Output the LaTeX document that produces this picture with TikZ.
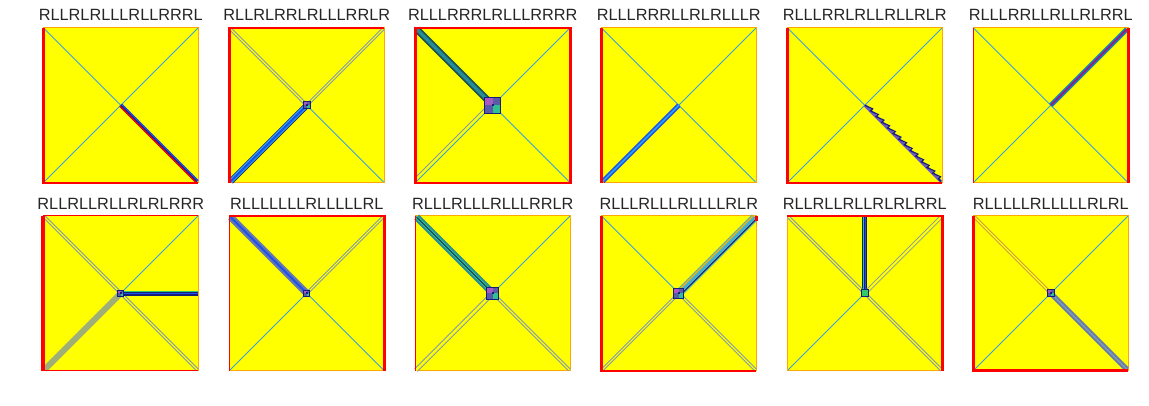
\documentclass[tikz,border=0pt]{standalone}
\usepackage{fontspec}
\setmainfont{Liberation Sans}
\usetikzlibrary{positioning,decorations.pathmorphing}
\definecolor{yel}{RGB}{255,255,0}
\definecolor{orng}{RGB}{255,168,0}
\definecolor{redc}{RGB}{255,0,0}
\definecolor{diagc}{RGB}{56,160,224}
\definecolor{titlec}{RGB}{38,38,38}
\definecolor{navyc}{RGB}{20,30,120}
\definecolor{bluec}{RGB}{30,80,235}
\definecolor{cyanc}{RGB}{40,170,235}
\definecolor{grayc}{RGB}{130,155,172}
\definecolor{tealc}{RGB}{40,140,150}
\definecolor{darkteal}{RGB}{25,80,80}
\definecolor{greenc}{RGB}{50,200,110}
\definecolor{purplec}{RGB}{110,90,190}
\definecolor{olivec}{RGB}{160,175,120}
\definecolor{slatec}{RGB}{100,120,175}
\definecolor{lteal}{RGB}{100,185,170}
\definecolor{blobc}{RGB}{90,90,170}
\definecolor{mauvec}{RGB}{170,90,190}

\begin{document}
\begin{tikzpicture}[x=1pt,y=1pt,
    panel/.style={draw=orng,fill=yel,line width=1.2pt,minimum size=155pt,inner sep=0pt,outer sep=0pt,
      path picture={\draw[diagc,line width=0.9pt]
        (path picture bounding box.north west) -- (path picture bounding box.south east)
        (path picture bounding box.north east) -- (path picture bounding box.south west);}},
    rulename/.style={font=\fontsize{16.3}{19}\selectfont,text=titlec,inner sep=0pt},
    band/.style={draw=#1,line width=5pt,shorten >=2pt},
    fine/.style={draw=#1,line width=1.3pt,shorten >=2pt},
    twin/.style={draw=#1,double=yel,line width=1pt,double distance=1.2pt,shorten >=1pt},
    nudge/.style 2 args={transform canvas={xshift=#1pt,yshift=#2pt}},
    blob/.style={draw=navyc,fill=blobc,line width=0.8pt,minimum size=#1,inner sep=0pt,outer sep=0pt,
      path picture={
        \fill[mauvec] (path picture bounding box.north west) rectangle (path picture bounding box.center);
        \fill[greenc!70!cyanc] (path picture bounding box.center) rectangle (path picture bounding box.south east);
        \fill[navyc] ([shift={(-1pt,-1pt)}]path picture bounding box.center) rectangle ([shift={(1pt,1pt)}]path picture bounding box.center);}},
    rim/.style={draw=redc,line width=2.4pt}]

  \useasboundingbox (0,0) rectangle (1149,405);

  \node[panel] (p1) at (120.8,299.7)               {};
  \node[panel] (p2) [right=31pt of p1]             {};
  \node[panel] (p3) [right=31pt of p2]             {};
  \node[panel] (p4) [right=31pt of p3]             {};
  \node[panel] (p5) [right=31pt of p4]             {};
  \node[panel] (p6) [right=31pt of p5]             {};
  \node[panel] (p7) [below=33pt of p1]             {};
  \node[panel] (p8) [right=31pt of p7]             {};
  \node[panel] (p9) [right=31pt of p8]             {};
  \node[panel] (p10) [right=31pt of p9]            {};
  \node[panel] (p11) [right=31pt of p10]           {};
  \node[panel] (p12) [right=31pt of p11]           {};

  \node[rulename] (t1) [above=6.6pt of p1]         {RLLRLRLLLRLLRRRL};
  \node[rulename] (t2) [above=6.6pt of p2]         {RLLRLRRLRLLLRRLR};
  \node[rulename] (t3) [above=6.6pt of p3]         {RLLLRRRLRLLLRRRR};
  \node[rulename] (t4) [above=6.6pt of p4]         {RLLLRRRLLRLRLLLR};
  \node[rulename] (t5) [above=6.6pt of p5]         {RLLLRRLRLLRLLRLR};
  \node[rulename] (t6) [above=6.6pt of p6]         {RLLLRRLLRLLRLRRL};
  \node[rulename] (t7) [above=6.6pt of p7]         {RLLRLLRLLRLRLRRR};
  \node[rulename] (t8) [above=6.6pt of p8]         {RLLLLLLLRLLLLLRL};
  \node[rulename] (t9) [above=6.6pt of p9]         {RLLLRLLLRLLLRRLR};
  \node[rulename] (t10) [above=6.6pt of p10]       {RLLLRLLLRLLLLRLR};
  \node[rulename] (t11) [above=6.6pt of p11]       {RLLRLLRLLRLRLRRL};
  \node[rulename] (t12) [above=6.6pt of p12]       {RLLLLLRLLLLLRLRL};

  \draw[band=navyc,line width=4.2pt]              (p1.center) -- (p1.south east);
  \draw[fine=bluec,nudge={0.9}{0.9}]              (p1.center) -- (p1.south east);
  \draw[fine=redc,nudge={-0.9}{-0.9}]             (p1.center) -- (p1.south east);
  \draw[rim] (p1.north west) -- (p1.south west) -- (p1.south east);

  \draw[twin=grayc]                               (p2.center) -- (p2.north west);
  \draw[twin=grayc]                               (p2.center) -- (p2.north east);
  \draw[band=navyc,line width=6pt]                (p2.center) -- (p2.south west);
  \draw[band=cyanc,line width=4.4pt]              (p2.center) -- (p2.south west);
  \draw[fine=bluec,line width=2pt]                (p2.center) -- (p2.south west);
  \node[blob=7pt] (b2) at (p2.center)             {};
  \draw[rim] (p2.south west) -- (p2.north west) -- (p2.north east);

  \draw[band=darkteal,line width=7pt]             (p3.center) -- (p3.north west);
  \draw[band=tealc,line width=3.5pt]              (p3.center) -- (p3.north west);
  \draw[fine=grayc,line width=0.9pt,nudge={-2.5}{2.5}] (p3.center) -- (p3.south west);
  \node[blob=16pt] (b3) at (p3.center)            {};
  \draw[rim] (p3.north west) rectangle (p3.south east);

  \draw[band=bluec,line width=4.5pt]              (p4.center) -- (p4.south west);
  \draw[fine=cyanc,line width=1.5pt]              (p4.center) -- (p4.south west);
  \draw[rim] (p4.north west) -- (p4.south west);

  \draw[band=purplec,line width=3pt]              (p5.center) -- (p5.south east);
  \draw[navyc,line width=1.2pt,shorten >=2pt,decorate,decoration={saw,segment length=8pt,amplitude=3pt}]
                                                  (p5.center) -- (p5.south east);
  \draw[rim] (p5.north west) -- (p5.south west) -- (p5.south east);

  \draw[band=tealc]                               (p6.center) -- (p6.north east);
  \draw[fine=bluec,line width=2.5pt]              (p6.center) -- (p6.north east);
  \draw[fine=redc,line width=0.8pt]               (p6.center) -- (p6.north east);
  \draw[rim] (p6.north east) -- (p6.south east);
  \draw[rim,line width=1.2pt] (p6.north west) -- (p6.south west);

  \draw[band=olivec,line width=6pt]               (p7.center) -- (p7.south west);
  \draw[twin=grayc]                               (p7.center) -- (p7.north west);
  \draw[twin=grayc]                               (p7.center) -- (p7.south east);
  \draw[band=navyc,shorten >=0pt]                 (p7.center) -- (p7.east);
  \draw[fine=greenc,shorten >=0pt,nudge={0}{1.6}] (p7.center) -- (p7.east);
  \draw[fine=bluec,shorten >=0pt,nudge={0}{-0.3}] (p7.center) -- (p7.east);
  \node[blob=6pt] (b7) at (p7.center)             {};
  \draw[rim,line width=4pt] (p7.north west) -- (p7.south west);
  \draw[rim,line width=1.2pt] (p7.north west) -- (p7.north east) (p7.south west) -- (p7.south east);

  \draw[band=slatec,line width=7pt]               (p8.center) -- (p8.north west);
  \draw[fine=bluec,line width=2pt]                (p8.center) -- (p8.north west);
  \draw[twin=grayc]                               (p8.center) -- (p8.north east);
  \node[blob=6pt] (b8) at (p8.center)             {};
  \draw[rim] (p8.north west) -- (p8.north east) -- (p8.south east);
  \draw[rim,line width=1.2pt] (p8.north west) -- (p8.south west);

  \draw[band=tealc,line width=7pt]                (p9.center) -- (p9.north west);
  \draw[fine=greenc,line width=3pt]               (p9.center) -- (p9.north west);
  \draw[fine=navyc,line width=1pt]                (p9.center) -- (p9.north west);
  \draw[twin=grayc,double distance=2.5pt]         (p9.center) -- (p9.south west);
  \draw[twin=grayc]                               (p9.center) -- (p9.south east);
  \node[blob=12pt] (b9) at (p9.center)            {};
  \draw[rim,line width=1.2pt] (p9.north west) -- (p9.south west);

  \draw[band=lteal,line width=8pt]                (p10.center) -- (p10.north east);
  \draw[fine=cyanc,line width=1.2pt]              (p10.center) -- (p10.north east);
  \draw[fine=navyc,line width=1pt,nudge={1.6}{-1.6}] (p10.center) -- (p10.north east);
  \draw[fine=orng,line width=1pt,nudge={-1.6}{1.6}]  (p10.center) -- (p10.north east);
  \draw[twin=grayc]                               (p10.center) -- (p10.south west);
  \draw[twin=grayc]                               (p10.center) -- (p10.south east);
  \node[blob=10pt] (b10) at (p10.center)          {};
  \draw[rim] (p10.north west) -- (p10.south west) -- (p10.south east);
  \draw[rim] (p10.north east) -- ([yshift=-5pt]p10.north east);

  \draw[band=navyc,shorten >=0pt]                 (p11.center) -- (p11.north);
  \draw[fine=greenc,shorten >=0pt,nudge={-1.6}{0}] (p11.center) -- (p11.north);
  \draw[fine=bluec,shorten >=0pt,nudge={0.4}{0}]  (p11.center) -- (p11.north);
  \draw[twin=grayc,double distance=2pt]           (p11.center) -- (p11.north east);
  \draw[twin=grayc]                               (p11.center) -- (p11.north west);
  \draw[twin=grayc]                               (p11.center) -- (p11.south east);
  \node[blob=7pt,fill=greenc,path picture={}] (b11) at (p11.center) {};
  \draw[rim] (p11.north west) -- (p11.north east) -- (p11.south east);

  \draw[band=slatec]                              (p12.center) -- (p12.south east);
  \draw[fine=grayc,line width=1.5pt]              (p12.center) -- (p12.south east);
  \draw[twin=orng!60!grayc]                       (p12.center) -- (p12.north west);
  \node[blob=7pt] (b12) at (p12.center)           {};
  \draw[rim,line width=3pt] (p12.north west) -- (p12.south west) -- (p12.south east);

\end{tikzpicture}
\end{document}
